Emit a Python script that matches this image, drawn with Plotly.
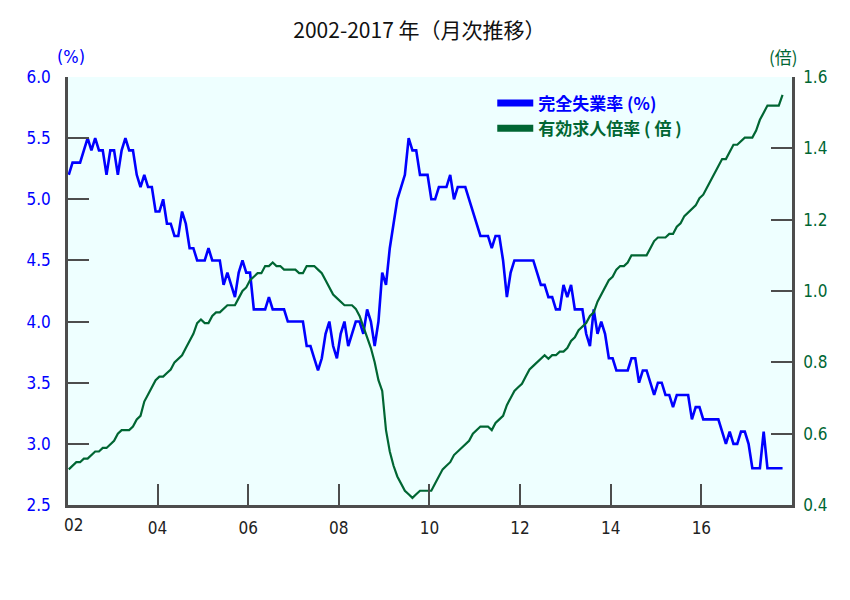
import plotly.graph_objects as go

# Monthly data, Jan 2002 - Oct 2017
# 完全失業率 (%)
unemployment = [
    5.2, 5.3, 5.3, 5.3, 5.4, 5.5, 5.4, 5.5, 5.4, 5.4, 5.2, 5.4,
    5.4, 5.2, 5.4, 5.5, 5.4, 5.4, 5.2, 5.1, 5.2, 5.1, 5.1, 4.9,
    4.9, 5.0, 4.8, 4.8, 4.7, 4.7, 4.9, 4.8, 4.6, 4.6, 4.5, 4.5,
    4.5, 4.6, 4.5, 4.5, 4.5, 4.3, 4.4, 4.3, 4.2, 4.4, 4.5, 4.4,
    4.4, 4.1, 4.1, 4.1, 4.1, 4.2, 4.1, 4.1, 4.1, 4.1, 4.0, 4.0,
    4.0, 4.0, 4.0, 3.8, 3.8, 3.7, 3.6, 3.7, 3.9, 4.0, 3.8, 3.7,
    3.9, 4.0, 3.8, 3.9, 4.0, 4.0, 3.9, 4.1, 4.0, 3.8, 4.0, 4.4,
    4.3, 4.6, 4.8, 5.0, 5.1, 5.2, 5.5, 5.4, 5.4, 5.2, 5.2, 5.2,
    5.0, 5.0, 5.1, 5.1, 5.1, 5.2, 5.0, 5.1, 5.1, 5.1, 5.0, 4.9,
    4.8, 4.7, 4.7, 4.7, 4.6, 4.7, 4.7, 4.5, 4.2, 4.4, 4.5, 4.5,
    4.5, 4.5, 4.5, 4.5, 4.4, 4.3, 4.3, 4.2, 4.2, 4.1, 4.1, 4.3,
    4.2, 4.3, 4.1, 4.1, 4.1, 3.9, 3.8, 4.1, 3.9, 4.0, 3.9, 3.7,
    3.7, 3.6, 3.6, 3.6, 3.6, 3.7, 3.7, 3.5, 3.6, 3.6, 3.5, 3.4,
    3.5, 3.5, 3.4, 3.4, 3.3, 3.4, 3.4, 3.4, 3.4, 3.2, 3.3, 3.3,
    3.2, 3.2, 3.2, 3.2, 3.2, 3.1, 3.0, 3.1, 3.0, 3.0, 3.1, 3.1,
    3.0, 2.8, 2.8, 2.8, 3.1, 2.8, 2.8, 2.8, 2.8, 2.8,
]

# 有効求人倍率 (倍)
job_ratio = [
    0.50, 0.51, 0.52, 0.52, 0.53, 0.53, 0.54, 0.55, 0.55, 0.56, 0.56, 0.57,
    0.58, 0.60, 0.61, 0.61, 0.61, 0.62, 0.64, 0.65, 0.69, 0.71, 0.73, 0.75,
    0.76, 0.76, 0.77, 0.78, 0.80, 0.81, 0.82, 0.84, 0.86, 0.88, 0.91, 0.92,
    0.91, 0.91, 0.93, 0.94, 0.94, 0.95, 0.96, 0.96, 0.96, 0.98, 1.00, 1.01,
    1.03, 1.04, 1.05, 1.05, 1.07, 1.07, 1.08, 1.07, 1.07, 1.06, 1.06, 1.06,
    1.06, 1.05, 1.05, 1.07, 1.07, 1.07, 1.06, 1.05, 1.03, 1.01, 0.99, 0.98,
    0.97, 0.96, 0.96, 0.96, 0.95, 0.93, 0.90, 0.87, 0.84, 0.80, 0.75, 0.72,
    0.61, 0.55, 0.51, 0.48, 0.46, 0.44, 0.43, 0.42, 0.43, 0.44, 0.44, 0.44,
    0.44, 0.46, 0.48, 0.50, 0.51, 0.52, 0.54, 0.55, 0.56, 0.57, 0.58, 0.60,
    0.61, 0.62, 0.62, 0.62, 0.61, 0.63, 0.64, 0.65, 0.68, 0.70, 0.72, 0.73,
    0.74, 0.76, 0.78, 0.79, 0.80, 0.81, 0.82, 0.81, 0.82, 0.82, 0.83, 0.83,
    0.84, 0.86, 0.87, 0.89, 0.90, 0.91, 0.93, 0.94, 0.97, 0.99, 1.01, 1.03,
    1.04, 1.06, 1.07, 1.07, 1.08, 1.10, 1.10, 1.10, 1.10, 1.10, 1.12, 1.14,
    1.15, 1.15, 1.15, 1.16, 1.16, 1.18, 1.19, 1.21, 1.22, 1.23, 1.24, 1.26,
    1.27, 1.29, 1.31, 1.33, 1.35, 1.37, 1.37, 1.39, 1.41, 1.41, 1.42, 1.43,
    1.43, 1.43, 1.45, 1.48, 1.50, 1.52, 1.52, 1.52, 1.52, 1.55,
]

# x axis labels (two-digit years)
first_year_label = "02"
year_labels = ["04", "06", "08", "10", "12", "14", "16"]

BLUE = "#0000ff"
GREEN = "#006633"
AXIS = "#4d4d4d"
NUM_FONT = "DejaVu Sans Condensed, DejaVu Sans"
JP_FONT = "Noto Sans CJK JP"

months = list(range(len(unemployment)))
# ticks sit on the Dec/Jan boundary every two years
year_ticks = [24 * (i + 1) - 0.5 for i in range(len(year_labels))]

fig = go.Figure()

# data lines
fig.add_trace(go.Scatter(
    x=months, y=unemployment, mode="lines",
    line=dict(color=BLUE, width=2.6), showlegend=False, hoverinfo="skip",
))
fig.add_trace(go.Scatter(
    x=months, y=job_ratio, mode="lines", yaxis="y2",
    line=dict(color=GREEN, width=2.2), showlegend=False, hoverinfo="skip",
))

# legend-only entries with thick sample lines
fig.add_trace(go.Scatter(
    x=[None], y=[None], mode="lines", line=dict(color=BLUE, width=7),
    name=f'<span style="color:{BLUE}"><b>完全失業率 (%)</b></span>',
))
fig.add_trace(go.Scatter(
    x=[None], y=[None], mode="lines", line=dict(color=GREEN, width=7), yaxis="y2",
    name=f'<span style="color:{GREEN}"><b>有効求人倍率 ( 倍 )</b></span>',
))

axis_style = dict(
    ticks="inside", ticklen=21, tickwidth=2, tickcolor=AXIS,
    showline=True, linewidth=2.5, linecolor=AXIS,
    showgrid=False, zeroline=False,
)

fig.update_layout(
    width=850,
    height=600,
    margin=dict(l=60, r=66, t=69, b=103),
    paper_bgcolor="white",
    plot_bgcolor="#eeffff",
    font=dict(family=NUM_FONT, size=17, color="#222222"),
    title=dict(
        text="2002-2017 年（月次推移）",
        x=0.484, y=0.962, xanchor="center", yanchor="middle",
        font=dict(family=JP_FONT, size=21, color="#111111"),
    ),
    xaxis=dict(
        range=[-0.2, 191.5],
        tickvals=year_ticks, ticktext=year_labels,
        tickfont=dict(family=NUM_FONT, size=17, color="#222222"),
        ticklabelstandoff=6,
        **axis_style,
    ),
    yaxis=dict(
        range=[2.5, 6.0], tick0=2.5, dtick=0.5, tickformat=".1f",
        tickfont=dict(family=NUM_FONT, size=17, color=BLUE),
        ticklabelstandoff=11,
        **axis_style,
    ),
    yaxis2=dict(
        range=[0.4, 1.6], tick0=0.4, dtick=0.2, tickformat=".1f",
        overlaying="y", side="right",
        tickfont=dict(family=NUM_FONT, size=17, color=GREEN),
        ticklabelstandoff=5,
        **axis_style,
    ),
    legend=dict(
        x=0.586, y=0.98, xanchor="left", yanchor="top",
        bgcolor="rgba(0,0,0,0)",
        font=dict(family=JP_FONT, size=17),
        itemwidth=36,
        tracegroupgap=0,
    ),
    annotations=[
        dict(text="(%)", x=0.004, y=1.047, xref="paper", yref="paper",
             showarrow=False, xanchor="center", yanchor="middle",
             font=dict(family=NUM_FONT, size=18, color=BLUE)),
        dict(text="(倍)", x=0.988, y=1.047, xref="paper", yref="paper",
             showarrow=False, xanchor="center", yanchor="middle",
             font=dict(family=JP_FONT, size=17, color=GREEN)),
        dict(text=first_year_label, x=1.3, y=-0.047, xref="x", yref="paper",
             showarrow=False, xanchor="center", yanchor="middle",
             font=dict(family=NUM_FONT, size=17, color="#222222")),
    ],
)

fig.write_html("out.html")
